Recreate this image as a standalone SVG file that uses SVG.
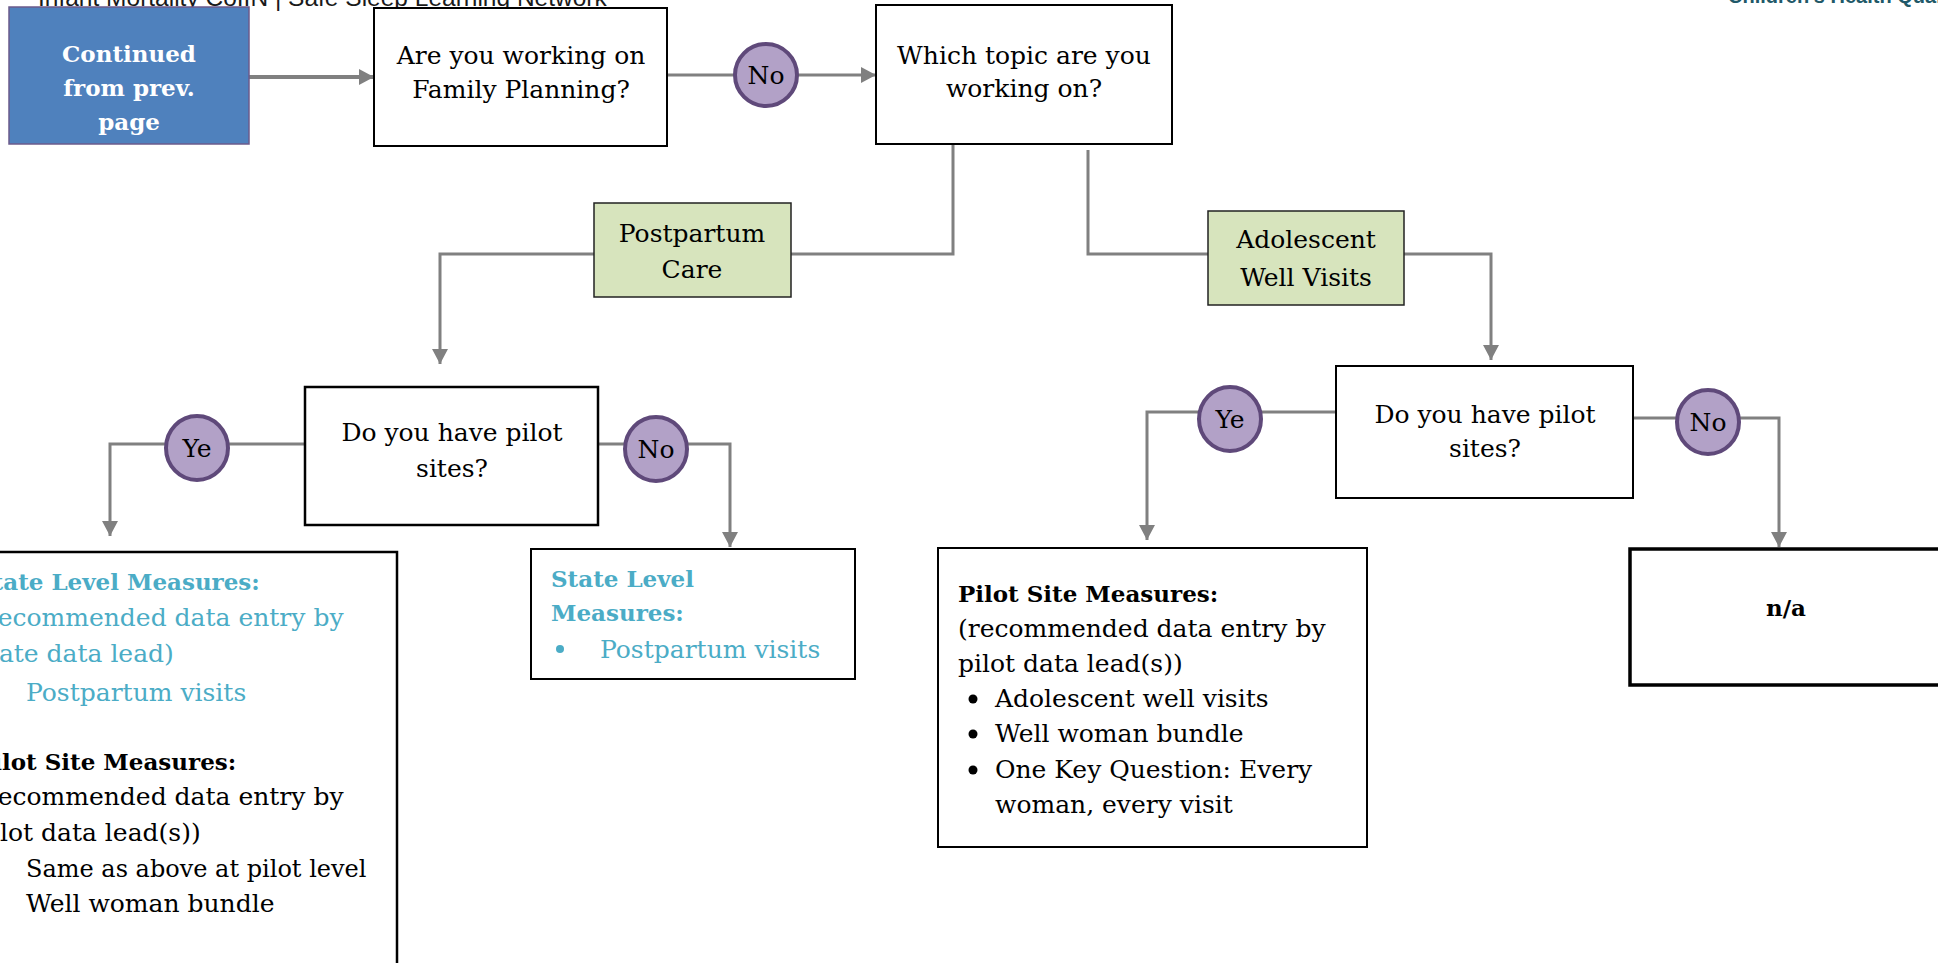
<svg xmlns="http://www.w3.org/2000/svg" width="1938" height="963" viewBox="0 0 1938 963">
  <defs>
    <marker id="arr" markerUnits="userSpaceOnUse" markerWidth="16" markerHeight="16" refX="15" refY="8" orient="auto">
      <path d="M0,0 L15,8 L0,16 z" fill="#808080"/>
    </marker>
    <style>
      .conn { fill: none; stroke: #808080; stroke-width: 3; }
      .box { fill: #ffffff; stroke: #000000; stroke-width: 2; }
      .green { fill: #D7E4BD; stroke: #222222; stroke-width: 1.5; }
      .yn { fill: #B2A1C7; stroke: #5F497A; stroke-width: 4; }
      .t { font-family: "DejaVu Serif", "Liberation Serif", serif; font-size: 25px; fill: #000000; }
      .c { text-anchor: middle; }
      .b { font-weight: bold; font-size: 23px; }
      .teal { fill: #4BACC6; }
      .w { fill: #ffffff; }
    </style>
  </defs>
  <rect x="0" y="0" width="1938" height="963" fill="#ffffff"/>

  <g id="header">
    <text x="38" y="6" font-family="Liberation Sans, Arial, sans-serif" font-size="24.5" fill="#1a1a1a">Infant Mortality CoIIN | Safe Sleep Learning Network</text>
    <text x="1728" y="3" font-family="Liberation Sans, Arial, sans-serif" font-size="20" font-weight="bold" fill="#215868">Children's Health Quality</text>
  </g>

  <g id="connectors">
    <path class="conn" d="M249,77 H374" style="stroke-width:4" marker-end="url(#arr)"/>
    <path class="conn" d="M667,75 H876" marker-end="url(#arr)"/>
    <path class="conn" d="M953,144 V254 H791"/>
    <path class="conn" d="M594,254 H440 V364" marker-end="url(#arr)"/>
    <path class="conn" d="M1088,150 V254 H1208"/>
    <path class="conn" d="M1404,254 H1491 V360" marker-end="url(#arr)"/>
    <path class="conn" d="M305,444 H110 V536" marker-end="url(#arr)"/>
    <path class="conn" d="M598,444 H730 V547" marker-end="url(#arr)"/>
    <path class="conn" d="M1336,412 H1147 V540" marker-end="url(#arr)"/>
    <path class="conn" d="M1633,418 H1779 V547" marker-end="url(#arr)"/>
  </g>

  <g id="continued">
    <rect x="9" y="7" width="240" height="137" fill="#4F81BD" stroke="#6B5B8C" stroke-width="1.5"/>
    <text class="t b w c" x="129" y="62">Continued</text>
    <text class="t b w c" x="129" y="96">from prev.</text>
    <text class="t b w c" x="129" y="130">page</text>
  </g>

  <g id="q-family-planning">
    <rect class="box" x="374" y="8" width="293" height="138"/>
    <text class="t c" x="521" y="64">Are you working on</text>
    <text class="t c" x="521" y="98">Family Planning?</text>
  </g>

  <g id="no-1">
    <ellipse class="yn" cx="766" cy="75" rx="31" ry="31"/>
    <text class="t c" x="766" y="84">No</text>
  </g>

  <g id="q-topic">
    <rect class="box" x="876" y="5" width="296" height="139"/>
    <text class="t c" x="1024" y="64">Which topic are you</text>
    <text class="t c" x="1024" y="97">working on?</text>
  </g>

  <g id="postpartum-care">
    <rect class="green" x="594" y="203" width="197" height="94"/>
    <text class="t c" x="692" y="242">Postpartum</text>
    <text class="t c" x="692" y="278">Care</text>
  </g>

  <g id="adolescent-well-visits">
    <rect class="green" x="1208" y="211" width="196" height="94"/>
    <text class="t c" x="1306" y="248">Adolescent</text>
    <text class="t c" x="1306" y="286">Well Visits</text>
  </g>

  <g id="q-pilot-left">
    <rect class="box" x="305" y="387" width="293" height="138" style="stroke-width:2.5"/>
    <text class="t c" x="452" y="441">Do you have pilot</text>
    <text class="t c" x="452" y="477">sites?</text>
  </g>

  <g id="yes-left">
    <ellipse class="yn" cx="197" cy="448" rx="31" ry="32"/>
    <text class="t c" x="197" y="457">Ye</text>
  </g>

  <g id="no-left">
    <ellipse class="yn" cx="656" cy="449" rx="31" ry="32"/>
    <text class="t c" x="656" y="458">No</text>
  </g>

  <g id="q-pilot-right">
    <rect class="box" x="1336" y="366" width="297" height="132"/>
    <text class="t c" x="1485" y="423">Do you have pilot</text>
    <text class="t c" x="1485" y="457">sites?</text>
  </g>

  <g id="yes-right">
    <ellipse class="yn" cx="1230" cy="419" rx="31" ry="32"/>
    <text class="t c" x="1230" y="428">Ye</text>
  </g>

  <g id="no-right">
    <ellipse class="yn" cx="1708" cy="422" rx="31" ry="32"/>
    <text class="t c" x="1708" y="431">No</text>
  </g>

  <g id="state-and-pilot-measures">
    <rect class="box" x="-10" y="552" width="407" height="450" style="stroke-width:2.5"/>
    <text class="t b teal" x="-24" y="590">State Level Measures:</text>
    <text class="t teal" x="-24" y="626">(recommended data entry by</text>
    <text class="t teal" x="-24" y="662">state data lead)</text>
    <text class="t teal" x="26" y="701">Postpartum visits</text>
    <text class="t b" x="-24" y="770">Pilot Site Measures:</text>
    <text class="t" x="-24" y="805">(recommended data entry by</text>
    <text class="t" x="-24" y="841">pilot data lead(s))</text>
    <text class="t" x="26" y="877" style="font-size:24px">Same as above at pilot level</text>
    <text class="t" x="26" y="912">Well woman bundle</text>
  </g>

  <g id="state-measures">
    <rect class="box" x="531" y="549" width="324" height="130"/>
    <text class="t b teal" x="551" y="587">State Level</text>
    <text class="t b teal" x="551" y="621">Measures:</text>
    <circle cx="560" cy="649" r="4" fill="#4BACC6"/>
    <text class="t teal" x="600" y="658">Postpartum visits</text>
  </g>

  <g id="pilot-measures">
    <rect class="box" x="938" y="548" width="429" height="299"/>
    <text class="t b" x="958" y="602">Pilot Site Measures:</text>
    <text class="t" x="958" y="637">(recommended data entry by</text>
    <text class="t" x="958" y="672">pilot data lead(s))</text>
    <circle cx="973" cy="699" r="4.5" fill="#000000"/>
    <text class="t" x="995" y="707">Adolescent well visits</text>
    <circle cx="973" cy="734" r="4.5" fill="#000000"/>
    <text class="t" x="995" y="742">Well woman bundle</text>
    <circle cx="973" cy="770" r="4.5" fill="#000000"/>
    <text class="t" x="995" y="778">One Key Question: Every</text>
    <text class="t" x="995" y="813">woman, every visit</text>
  </g>

  <g id="na">
    <rect class="box" x="1630" y="549" width="330" height="136" style="stroke-width:3.5"/>
    <text class="t b c" x="1786" y="616">n/a</text>
  </g>
</svg>
